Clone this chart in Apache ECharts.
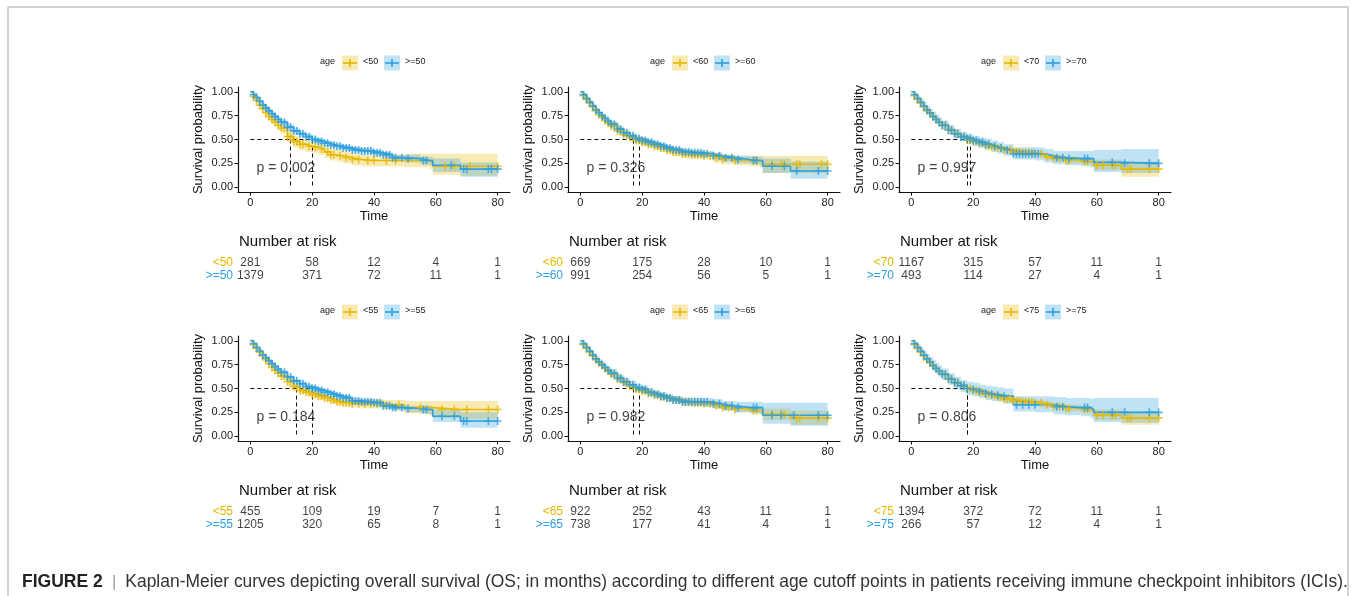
<!DOCTYPE html>
<html><head><meta charset="utf-8">
<script src="https://cdn.jsdelivr.net/npm/echarts@6/dist/echarts.min.js"></script>
<style>html,body{margin:0;padding:0;background:#fff}#c{width:1356px;height:596px}</style>
</head><body><div id="c"></div>
<script>
// ---------------- DATA ----------------
const TIME = [0,1,2,3,4,5,6,7,8,9,10,12,14,16,18,20,22,24,26,28,30,33,36,40,43,46,50,55,58,59,68,80];
const X_TICKS = [0,20,40,60,80];
const Y_TICKS = [0,0.25,0.5,0.75,1];
const RISK_TIMES = [0,20,40,60,80];
const CUTOFFS = ['50','60','70','55','65','75'];
const P_VALUES = ['0.002','0.326','0.997','0.184','0.982','0.806'];
const MEDIANS = [[13,20],[17,19],[18,19],[15,20],[17,19],[18,18]];

// panel 1: <50 / >=50
const s_lt50 = [1,.95,.91,.86,.82,.78,.74,.71,.68,.65,.62,.53,.48,.45,.43,.42,.40,.37,.34,.33,.31,.29,.28,.28,.28,.28,.28,.28,.26,.22,.22,.22];
const lo_lt50 = [1,.92,.87,.82,.77,.73,.69,.66,.63,.59,.56,.47,.42,.39,.37,.36,.34,.31,.28,.27,.25,.23,.22,.22,.22,.22,.21,.21,.19,.13,.12,.12];
const hi_lt50 = [1,.98,.95,.90,.86,.83,.79,.77,.74,.71,.68,.59,.54,.51,.49,.48,.46,.43,.40,.39,.37,.35,.34,.34,.34,.34,.35,.35,.35,.35,.35,.35];
const s_ge50 = [1,.97,.94,.90,.86,.83,.80,.77,.74,.71,.68,.63,.59,.56,.53,.50,.48,.46,.44,.43,.41,.39,.38,.36,.34,.31,.30,.28,.28,.23,.19,.19];
const lo_ge50 = [1,.96,.93,.88,.84,.81,.78,.75,.72,.68,.65,.60,.56,.53,.50,.47,.45,.43,.41,.40,.38,.36,.35,.33,.31,.28,.26,.24,.23,.16,.11,.11];
const hi_ge50 = [1,.98,.95,.92,.88,.85,.82,.79,.76,.74,.71,.66,.62,.59,.56,.53,.51,.49,.47,.46,.44,.42,.41,.39,.37,.34,.34,.32,.32,.30,.26,.26];
// panel 2: <60 / >=60
const s_lt60 = [1,.96,.92,.88,.84,.80,.76,.73,.70,.67,.64,.59,.55,.52,.49,.47,.45,.43,.41,.39,.37,.35,.34,.33,.31,.29,.28,.28,.27,.24,.24,.24];
const lo_lt60 = [1,.94,.90,.86,.82,.77,.73,.70,.67,.64,.61,.56,.52,.48,.45,.43,.41,.39,.37,.35,.33,.31,.30,.29,.26,.24,.23,.22,.21,.15,.15,.15];
const hi_lt60 = [1,.97,.94,.91,.87,.83,.79,.76,.73,.71,.68,.63,.59,.56,.53,.51,.49,.47,.45,.43,.41,.39,.38,.37,.36,.34,.33,.33,.33,.33,.33,.33];
const s_ge60 = [1,.97,.93,.89,.85,.81,.78,.75,.72,.69,.66,.61,.57,.54,.51,.49,.47,.45,.43,.41,.39,.37,.36,.35,.33,.31,.29,.28,.28,.22,.17,.17];
const lo_ge60 = [1,.96,.91,.87,.83,.79,.75,.72,.69,.66,.63,.58,.54,.51,.48,.46,.44,.42,.40,.38,.36,.34,.33,.32,.29,.27,.25,.24,.23,.15,.09,.08];
const hi_ge60 = [1,.98,.95,.91,.87,.83,.80,.77,.75,.72,.69,.64,.60,.57,.54,.52,.50,.48,.46,.44,.42,.40,.39,.38,.36,.34,.33,.32,.32,.30,.27,.27];
// panel 3: <70 / >=70
const s_lt70 = [1,.96,.92,.88,.84,.80,.77,.74,.71,.68,.65,.60,.56,.53,.495,.48,.46,.44,.42,.41,.39,.37,.36,.35,.32,.30,.28,.27,.27,.23,.19,.19];
const lo_lt70 = [1,.95,.91,.86,.82,.78,.75,.72,.69,.66,.63,.58,.54,.51,.48,.46,.44,.42,.40,.38,.36,.34,.33,.32,.29,.27,.25,.24,.23,.18,.11,.11];
const hi_lt70 = [1,.97,.94,.90,.86,.82,.79,.76,.73,.70,.67,.62,.58,.55,.52,.50,.48,.46,.44,.43,.42,.40,.39,.38,.35,.33,.32,.31,.31,.29,.27,.27];
const s_ge70 = [1,.97,.93,.89,.85,.81,.78,.74,.71,.68,.65,.60,.56,.53,.51,.49,.47,.45,.43,.41,.39,.35,.35,.35,.33,.31,.30,.30,.30,.26,.25,.25];
const lo_ge70 = [1,.95,.90,.85,.81,.77,.73,.69,.66,.63,.60,.55,.51,.48,.45,.43,.41,.39,.37,.35,.33,.29,.29,.28,.26,.24,.23,.22,.21,.16,.15,.15];
const hi_ge70 = [1,.99,.96,.93,.89,.85,.82,.79,.76,.73,.70,.65,.61,.58,.56,.54,.52,.51,.49,.47,.45,.42,.42,.42,.40,.38,.38,.38,.38,.39,.40,.40];
// panel 4: <55 / >=55
const s_lt55 = [1,.96,.92,.88,.84,.80,.76,.72,.69,.66,.63,.57,.52,.48,.46,.44,.42,.40,.38,.36,.35,.34,.34,.34,.33,.33,.30,.30,.30,.28,.28,.28];
const lo_lt55 = [1,.94,.90,.85,.81,.77,.73,.69,.65,.62,.59,.53,.48,.44,.42,.40,.38,.36,.34,.32,.31,.30,.29,.29,.28,.27,.24,.23,.22,.19,.18,.18];
const hi_lt55 = [1,.97,.94,.91,.87,.83,.79,.76,.72,.70,.67,.61,.56,.52,.50,.48,.46,.44,.42,.40,.39,.39,.39,.39,.38,.38,.37,.37,.37,.37,.37,.38];
const s_ge55 = [1,.97,.93,.89,.85,.82,.79,.76,.73,.70,.67,.62,.58,.55,.52,.50,.48,.46,.44,.42,.40,.37,.36,.35,.32,.30,.29,.28,.28,.21,.16,.16];
const lo_ge55 = [1,.96,.92,.88,.84,.80,.77,.74,.71,.68,.65,.60,.56,.52,.49,.47,.45,.43,.41,.39,.37,.34,.33,.32,.29,.27,.25,.24,.23,.15,.09,.08];
const hi_ge55 = [1,.98,.95,.91,.87,.84,.81,.78,.75,.72,.69,.64,.60,.58,.55,.53,.51,.49,.47,.45,.43,.40,.39,.38,.35,.33,.32,.32,.32,.28,.25,.25];
// panel 5: <65 / >=65
const s_lt65 = [1,.96,.92,.88,.84,.80,.77,.74,.71,.68,.65,.60,.56,.52,.49,.47,.45,.43,.41,.40,.38,.36,.35,.34,.32,.30,.28,.27,.27,.23,.19,.19];
const lo_lt65 = [1,.95,.90,.86,.82,.78,.75,.71,.68,.65,.62,.57,.53,.49,.46,.44,.42,.40,.38,.37,.35,.33,.32,.31,.29,.27,.25,.24,.23,.17,.12,.12];
const hi_lt65 = [1,.97,.94,.90,.86,.82,.79,.76,.73,.71,.68,.63,.59,.55,.52,.50,.48,.46,.44,.43,.41,.39,.38,.37,.35,.33,.32,.31,.31,.29,.27,.27];
const s_ge65 = [1,.97,.93,.89,.85,.81,.78,.75,.72,.69,.66,.61,.57,.54,.51,.49,.46,.44,.42,.40,.38,.36,.36,.36,.34,.32,.30,.30,.30,.22,.22,.22];
const lo_ge65 = [1,.95,.91,.87,.83,.78,.75,.72,.68,.65,.62,.57,.53,.50,.47,.45,.42,.40,.38,.36,.34,.32,.32,.31,.29,.27,.25,.24,.23,.13,.11,.10];
const hi_ge65 = [1,.98,.95,.91,.87,.84,.81,.78,.75,.73,.70,.65,.61,.58,.55,.53,.50,.48,.46,.44,.42,.40,.40,.40,.39,.37,.36,.36,.36,.35,.35,.35];
// panel 6: <75 / >=75
const s_lt75 = [1,.96,.92,.88,.84,.80,.77,.74,.71,.68,.65,.60,.56,.53,.50,.48,.46,.44,.43,.41,.39,.37,.36,.35,.33,.31,.29,.28,.27,.22,.19,.19];
const lo_lt75 = [1,.95,.91,.87,.83,.79,.75,.72,.69,.66,.63,.58,.54,.51,.48,.46,.44,.42,.40,.38,.37,.35,.34,.33,.30,.28,.26,.25,.24,.17,.12,.11];
const hi_lt75 = [1,.97,.94,.90,.86,.82,.79,.76,.73,.70,.67,.62,.58,.55,.52,.50,.48,.46,.45,.43,.42,.40,.39,.38,.36,.34,.33,.32,.31,.28,.26,.26];
const s_ge75 = [1,.97,.93,.89,.85,.81,.78,.74,.71,.68,.65,.60,.56,.53,.50,.49,.47,.45,.44,.43,.42,.33,.33,.33,.33,.31,.30,.30,.28,.25,.25,.25];
const lo_ge75 = [1,.95,.90,.85,.80,.76,.72,.68,.65,.62,.59,.54,.49,.46,.43,.42,.40,.38,.37,.36,.34,.26,.26,.25,.25,.23,.22,.21,.19,.15,.14,.14];
const hi_ge75 = [1,.99,.96,.93,.89,.86,.83,.80,.77,.74,.71,.66,.62,.59,.57,.56,.54,.53,.52,.51,.50,.42,.42,.42,.42,.41,.40,.40,.39,.40,.40,.40];

// censoring times (months)
const cens_lt50 = [1,2,3,4,5,6,7,8,9,10,11,12,13,14,15,16,17,19,21,23,25,26,27,29,31,33,35,38,40,44,47,63,66,71,80];
const cens_ge50 = [1,2,3,4,5,6,7,8,9,10,11,12,13,14,15,16,17,18,19,20,21,22,23,24,25,26,27,28,29,30,31,32,33,34,35,36,37,38,39,40,41,42,43,44,45,46,47,49,51,56,57,65,69,70,77,78,80];
const cens_lt60 = [1,2,3,4,5,6,7,8,9,10,11,12,13,14,15,16,17,18,19,20,21,22,23,24,25,26,27,28,29,30,31,32,33,34,35,36,37,38,39,40,42,44,46,50,56,57,62,65,66,70,71,78,80];
const cens_ge60 = [1,2,3,4,5,6,7,8,9,10,11,12,13,14,15,16,17,18,19,20,21,22,23,24,25,26,27,28,29,30,31,32,33,34,35,36,37,38,39,40,41,43,45,47,49,51,56,57,62,66,70,77,80];
const cens_lt70 = [1,2,3,4,5,6,7,8,9,10,11,12,13,14,15,16,17,18,19,20,21,22,23,24,25,26,27,28,29,30,31,32,33,34,35,36,37,38,39,40,42,44,46,48,50,51,56,57,60,62,65,66,70,71,77,80];
const cens_ge70 = [1,2,3,4,5,6,7,8,9,10,11,12,13,14,15,16,17,18,19,20,21,22,23,24,25,27,29,31,33,34,35,36,37,38,39,40,41,47,49,51,56,57,65,69,77,80];
const cens_lt55 = [1,2,3,4,5,6,7,8,9,10,11,12,13,14,15,16,17,18,19,20,21,22,23,24,25,26,27,28,29,30,31,32,33,35,37,39,41,43,48,55,62,66,70,77,80];
const cens_ge55 = [1,2,3,4,5,6,7,8,9,10,11,12,13,14,15,16,17,18,19,20,21,22,23,24,25,26,27,28,29,30,31,32,33,34,35,36,37,38,39,40,41,42,43,44,45,46,47,49,51,56,57,62,66,69,70,77,80];
const cens_lt65 = [1,2,3,4,5,6,7,8,9,10,11,12,13,14,15,16,17,18,19,20,21,22,23,24,25,26,27,28,29,30,31,32,33,34,35,36,37,38,39,40,42,44,46,48,50,56,57,62,65,66,70,71,77,80];
const cens_ge65 = [1,2,3,4,5,6,7,8,9,10,11,12,13,14,15,16,17,18,19,20,21,22,23,24,25,26,27,28,29,30,31,32,33,34,35,36,37,38,39,40,41,43,45,47,49,51,56,57,62,65,69,77,80];
const cens_lt75 = [1,2,3,4,5,6,7,8,9,10,11,12,13,14,15,16,17,18,19,20,21,22,23,24,25,26,27,28,29,30,31,32,33,34,35,36,37,38,39,40,42,44,46,48,50,51,56,57,60,62,65,66,70,71,77,80];
const cens_ge75 = [1,2,3,4,5,6,7,8,9,10,11,12,13,14,15,16,17,18,20,22,24,26,28,30,34,36,38,40,47,49,56,57,65,69,77,80];

// number at risk at RISK_TIMES
const risk_lt50 = [281,58,12,4,1],  risk_ge50 = [1379,371,72,11,1];
const risk_lt60 = [669,175,28,10,1], risk_ge60 = [991,254,56,5,1];
const risk_lt70 = [1167,315,57,11,1], risk_ge70 = [493,114,27,4,1];
const risk_lt55 = [455,109,19,7,1], risk_ge55 = [1205,320,65,8,1];
const risk_lt65 = [922,252,43,11,1], risk_ge65 = [738,177,41,4,1];
const risk_lt75 = [1394,372,72,11,1], risk_ge75 = [266,57,12,4,1];

const CAPTION_LABEL = 'FIGURE 2';
const CAPTION_TEXT = 'Kaplan-Meier curves depicting overall survival (OS; in months) according to different age cutoff points in patients receiving immune checkpoint inhibitors (ICIs).';

const PANEL_DATA = [
  {lo:[s_lt50,lo_lt50,hi_lt50,cens_lt50,risk_lt50], hi:[s_ge50,lo_ge50,hi_ge50,cens_ge50,risk_ge50]},
  {lo:[s_lt60,lo_lt60,hi_lt60,cens_lt60,risk_lt60], hi:[s_ge60,lo_ge60,hi_ge60,cens_ge60,risk_ge60]},
  {lo:[s_lt70,lo_lt70,hi_lt70,cens_lt70,risk_lt70], hi:[s_ge70,lo_ge70,hi_ge70,cens_ge70,risk_ge70]},
  {lo:[s_lt55,lo_lt55,hi_lt55,cens_lt55,risk_lt55], hi:[s_ge55,lo_ge55,hi_ge55,cens_ge55,risk_ge55]},
  {lo:[s_lt65,lo_lt65,hi_lt65,cens_lt65,risk_lt65], hi:[s_ge65,lo_ge65,hi_ge65,cens_ge65,risk_ge65]},
  {lo:[s_lt75,lo_lt75,hi_lt75,cens_lt75,risk_lt75], hi:[s_ge75,lo_ge75,hi_ge75,cens_ge75,risk_ge75]}
];

// ---------------- LAYOUT / STYLE ----------------
const FONT = '"Liberation Sans", Arial, Helvetica, sans-serif';
const YEL = '#E7B800', BLU = '#2E9FDF';
const YEL_A = 'rgba(231,184,0,0.3)', BLU_A = 'rgba(46,159,223,0.3)';
const COL_LEFT = [238, 568, 899];
const ROW_TOP = [87, 336];
const PW = 272, PH = 105;
const RISK_OFF = 169, RISK_H = 26;
const LEG_Y_OFF = -24;
const PLUS = 'path://M4,0h2v4h4v2h-4v4h-2v-4h-4v-2h4z';

function stepAt(sArr, t) {
  let v = sArr[0];
  for (let i = 0; i < TIME.length; i++) { if (TIME[i] <= t) v = sArr[i]; }
  return v;
}

const grids = [], xAxes = [], yAxes = [], series = [], titles = [], graphics = [];

PANEL_DATA.forEach((pd, p) => {
  const L = COL_LEFT[p % 3], T = ROW_TOP[Math.floor(p / 3)];
  const cut = CUTOFFS[p];
  const nameLo = '<' + cut, nameHi = '>=' + cut;
  const gi = grids.length;
  grids.push({left: L, top: T, width: PW, height: PH});
  xAxes.push({
    gridIndex: gi, type: 'value', min: -4, max: 84,
    name: 'Time', nameLocation: 'middle', nameGap: 18,
    nameTextStyle: {fontSize: 13, color: '#111', fontFamily: FONT},
    axisLine: {show: true, onZero: false, lineStyle: {color: '#111', width: 1.2}},
    axisTick: {show: true, length: 3.5, customValues: X_TICKS, lineStyle: {color: '#111', width: 1}},
    axisLabel: {customValues: X_TICKS, fontSize: 11, color: '#222', margin: 5, fontFamily: FONT},
    splitLine: {show: false}
  });
  yAxes.push({
    gridIndex: gi, type: 'value', min: -0.05, max: 1.05,
    name: 'Survival probability', nameLocation: 'middle', nameGap: 33, nameRotate: 90,
    nameTextStyle: {fontSize: 13, color: '#111', fontFamily: FONT},
    axisLine: {show: true, onZero: false, lineStyle: {color: '#111', width: 1.2}},
    axisTick: {show: true, length: 3.5, customValues: Y_TICKS, lineStyle: {color: '#111', width: 1}},
    axisLabel: {customValues: Y_TICKS, fontSize: 11, color: '#222', margin: 5, fontFamily: FONT,
      formatter: v => Number(v).toFixed(2)},
    splitLine: {show: false}
  });

  const groups = [[pd.lo, YEL, YEL_A, nameLo], [pd.hi, BLU, BLU_A, nameHi]];
  // bands
  groups.forEach(([g, col, colA]) => {
    const lo = g[1], hi = g[2];
    series.push({
      type: 'custom', xAxisIndex: gi, yAxisIndex: gi, silent: true, z: 1,
      data: [[0, 0]],
      renderItem: (params, api) => {
        const pts = [];
        for (let i = 0; i < TIME.length; i++) {
          const tn = i < TIME.length - 1 ? TIME[i + 1] : TIME[i];
          pts.push(api.coord([TIME[i], hi[i]]));
          pts.push(api.coord([tn, hi[i]]));
        }
        for (let i = TIME.length - 1; i >= 0; i--) {
          const tn = i < TIME.length - 1 ? TIME[i + 1] : TIME[i];
          pts.push(api.coord([tn, lo[i]]));
          pts.push(api.coord([TIME[i], lo[i]]));
        }
        return {type: 'polygon', shape: {points: pts}, style: {fill: colA}};
      }
    });
  });
  // median lines
  const meds = MEDIANS[p];
  const mMax = Math.max.apply(null, meds);
  const segs = [{coords: [[0, 0.5], [mMax, 0.5]]}];
  meds.forEach(m => segs.push({coords: [[m, 0.5], [m, 0]]}));
  series.push({
    type: 'lines', coordinateSystem: 'cartesian2d', xAxisIndex: gi, yAxisIndex: gi, silent: true, z: 2,
    lineStyle: {color: '#111', width: 1, type: [4, 3], opacity: 1}, data: segs
  });
  // curves + censor marks
  groups.forEach(([g, col, colA, nm]) => {
    const s = g[0];
    series.push({
      type: 'line', name: nm, xAxisIndex: gi, yAxisIndex: gi, step: 'end', showSymbol: false, silent: true, z: 3,
      lineStyle: {color: col, width: 1.6}, data: TIME.map((t, i) => [t, s[i]])
    });
    series.push({
      type: 'scatter', xAxisIndex: gi, yAxisIndex: gi, symbol: PLUS, symbolSize: 8, silent: true, z: 4,
      itemStyle: {color: col}, data: g[3].map(t => [t, stepAt(s, t)])
    });
  });
  // p-value
  series.push({
    type: 'scatter', xAxisIndex: gi, yAxisIndex: gi, symbolSize: 0, silent: true, z: 5,
    data: [[2, 0.2]],
    label: {show: true, position: 'right', distance: 0, formatter: 'p = ' + P_VALUES[p],
      fontSize: 14, color: '#111', fontFamily: FONT}
  });

  // risk table grid
  const ri = grids.length;
  grids.push({left: L, top: T + RISK_OFF, width: PW, height: RISK_H});
  xAxes.push({gridIndex: ri, type: 'value', min: -4, max: 84, show: false});
  yAxes.push({
    gridIndex: ri, type: 'category', inverse: true, data: [nameLo, nameHi],
    axisLine: {show: false}, axisTick: {show: false}, splitLine: {show: false},
    axisLabel: {show: true, interval: 0, hideOverlap: false, fontSize: 12, margin: 5, fontFamily: FONT,
      color: (v, idx) => (v === nameLo ? YEL : BLU)}
  });
  [[pd.lo[4], nameLo], [pd.hi[4], nameHi]].forEach(([r, nm]) => {
    series.push({
      type: 'scatter', xAxisIndex: ri, yAxisIndex: ri, symbolSize: 0, silent: true,
      data: RISK_TIMES.map((t, i) => [t, nm, r[i]]),
      label: {show: true, position: 'inside', formatter: q => String(q.value[2]),
        fontSize: 12, color: '#111', fontFamily: FONT}
    });
  });
  titles.push({text: 'Number at risk', left: L + 1, top: T + 147, padding: 0,
    textStyle: {fontSize: 15, fontWeight: 'normal', color: '#111', fontFamily: FONT}});

  // legend (drawn)
  const ly = T + LEG_Y_OFF;
  graphics.push({type: 'text', left: L + 82, top: ly - 5.5, style: {text: 'age', fontSize: 9, fill: '#222', font: '9px ' + FONT}});
  [[L + 104, YEL, YEL_A, nameLo, L + 125], [L + 146, BLU, BLU_A, nameHi, L + 167]].forEach(([kx, col, colA, nm, tx]) => {
    graphics.push({type: 'rect', shape: {x: kx, y: ly - 7.5, width: 16, height: 15}, style: {fill: colA}});
    graphics.push({type: 'line', shape: {x1: kx + 1, y1: ly, x2: kx + 15, y2: ly}, style: {stroke: col, lineWidth: 1.6}});
    graphics.push({type: 'line', shape: {x1: kx + 8, y1: ly - 4, x2: kx + 8, y2: ly + 4}, style: {stroke: col, lineWidth: 1.6}});
    graphics.push({type: 'text', left: tx, top: ly - 5.5, style: {text: nm, fontSize: 9, fill: '#222', font: '9px ' + FONT}});
  });
});

// caption
titles.push({
  text: '{b|' + CAPTION_LABEL + '}{s|  |  }{n|' + CAPTION_TEXT + '}',
  left: 22, top: 573, padding: 0,
  textStyle: {fontWeight: 'normal', rich: {
    b: {fontSize: 17.5, fontWeight: 'bold', color: '#222', fontFamily: FONT},
    s: {fontSize: 16.5, fontWeight: 'normal', color: '#999', fontFamily: FONT},
    n: {fontSize: 17.45, fontWeight: 'normal', color: '#333', fontFamily: FONT}
  }}
});
// frame
graphics.push({type: 'rect', shape: {x: 8, y: 7, width: 1340, height: 640},
  style: {fill: null, stroke: '#c4c4c4', lineWidth: 1.5}, z: -1});

const chart = echarts.init(document.getElementById('c'), null, {renderer: 'canvas'});
chart.setOption({
  animation: false,
  backgroundColor: '#fff',
  textStyle: {fontFamily: FONT},
  title: titles,
  grid: grids,
  xAxis: xAxes,
  yAxis: yAxes,
  series: series,
  graphic: graphics
});
</script></body></html>
